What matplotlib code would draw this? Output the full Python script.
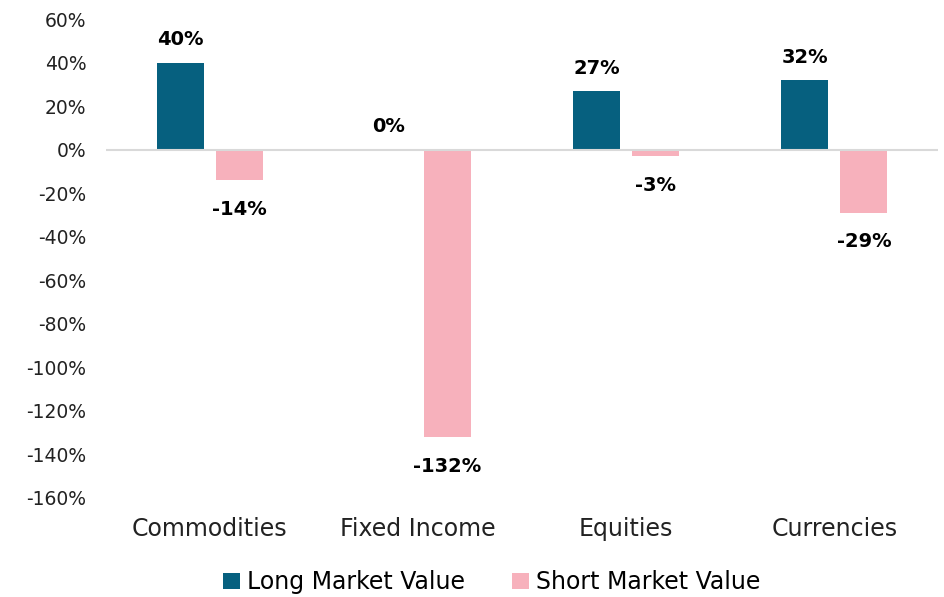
import matplotlib
matplotlib.use("Agg")
import matplotlib.pyplot as plt
import numpy as np
from matplotlib.ticker import FuncFormatter

categories = ["Commodities", "Fixed Income", "Equities", "Currencies"]
long_values = [40, 0, 27, 32]
short_values = [-14, -132, -3, -29]
series_names = ["Long Market Value", "Short Market Value"]
yticks = list(range(-160, 61, 20))

plt.rcParams['font.family'] = ['DejaVu Sans']

fig = plt.figure(figsize=(9.44, 5.97), dpi=100)
ax = fig.add_axes([0.112, 0.166, 0.882, 0.802])

x = np.arange(len(categories))
w = 0.226
off = 0.142
c_long = "#06607F"
c_short = "#F7B1BC"

b1 = ax.bar(x - off, long_values, w, color=c_long, label=series_names[0], zorder=2)
b2 = ax.bar(x + off, short_values, w, color=c_short, label=series_names[1], zorder=2)

ax.axhline(0, color="#d9d9d9", lw=1.5, zorder=3)

for xi, v in zip(x - off, long_values):
    ax.annotate(f"{v}%", (xi, max(v, 0)), xytext=(0, 16.5), textcoords="offset points",
                ha="center", va="center", fontsize=14, fontweight="bold", color="black")
for xi, v in zip(x + off, short_values):
    ax.annotate(f"{v}%", (xi, v), xytext=(0, -21), textcoords="offset points",
                ha="center", va="center", fontsize=14, fontweight="bold", color="black")

ax.set_ylim(-160, 60)
ax.set_xlim(-0.5, len(categories) - 0.5)
ax.set_yticks(yticks)
ax.yaxis.set_major_formatter(FuncFormatter(lambda v, p: f"{int(v)}%"))
ax.set_xticks(x)
ax.set_xticklabels(categories, fontsize=17)
ax.tick_params(axis="y", labelsize=13.5, length=0, pad=14, colors="#222222")
ax.tick_params(axis="x", length=0, pad=14, colors="#222222")
for s in ax.spines.values():
    s.set_visible(False)

leg = fig.legend(handles=[b1, b2], labels=series_names, loc="center", bbox_to_anchor=(0.521, 0.025),
                 ncol=2, frameon=False, fontsize=17, handlelength=0.7, handleheight=0.7,
                 handletextpad=0.3, columnspacing=2.0)

fig.savefig("out.png", dpi=100)
